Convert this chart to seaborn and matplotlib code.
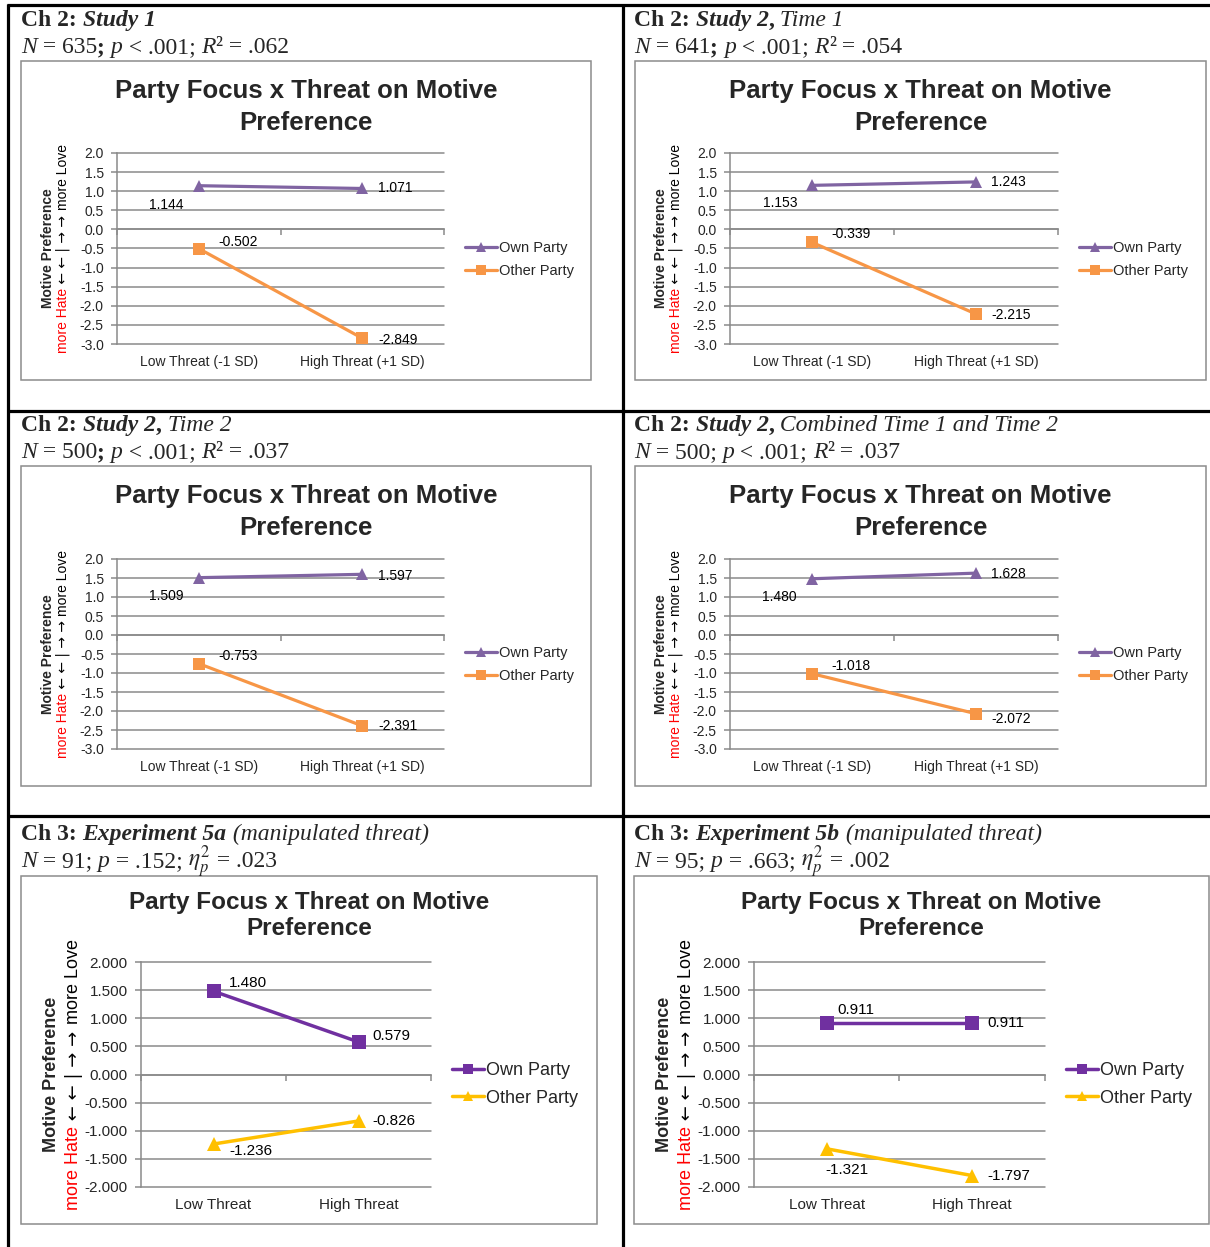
import matplotlib
matplotlib.use("Agg")
import matplotlib.pyplot as plt
import seaborn as sns
import pandas as pd
from matplotlib.lines import Line2D
from matplotlib.patches import Rectangle

sns.set_style("white")
plt.rcParams["font.family"] = ["Liberation Sans", "DejaVu Sans"]
plt.rcParams["mathtext.fontset"] = "stix"

W, H = 1210, 1247

# ---------------- data ----------------
parties = ["Own Party", "Other Party"]
threat_cont = ["Low Threat (-1 SD)", "High Threat (+1 SD)"]
threat_manip = ["Low Threat", "High Threat"]

study1_own = [1.144, 1.071]
study1_other = [-0.502, -2.849]
study2_t1_own = [1.153, 1.243]
study2_t1_other = [-0.339, -2.215]
study2_t2_own = [1.509, 1.597]
study2_t2_other = [-0.753, -2.391]
study2_comb_own = [1.480, 1.628]
study2_comb_other = [-1.018, -2.072]
exp5a_own = [1.480, 0.579]
exp5a_other = [-1.236, -0.826]
exp5b_own = [0.911, 0.911]
exp5b_other = [-1.321, -1.797]

yticks_cont = [2.0, 1.5, 1.0, 0.5, 0.0, -0.5, -1.0, -1.5, -2.0, -2.5, -3.0]
ylabels_cont = ["2.0", "1.5", "1.0", "0.5", "0.0", "-0.5", "-1.0", "-1.5", "-2.0", "-2.5", "-3.0"]
yticks_manip = [2.0, 1.5, 1.0, 0.5, 0.0, -0.5, -1.0, -1.5, -2.0]
ylabels_manip = ["2.000", "1.500", "1.000", "0.500", "0.000", "-0.500", "-1.000", "-1.500", "-2.000"]

chart_title = ["Party Focus x Threat on Motive", "Preference"]

hdr_study1 = [[("Ch 2: ", "b"), ("Study 1", "bi")],
              [("N", "i"), (" = 635", "r"), ("; ", "b"), ("p", "i"), (" < .001; ", "r"),
               ("R", "i"), ("²", "r"), (" = .062", "r")]]
hdr_study2_t1 = [[("Ch 2: ", "b"), ("Study 2", "bi"), (",", "b"), (" Time 1", "i")],
                 [("N", "i"), (" = 641", "r"), ("; ", "b"), ("p", "i"), (" < .001; ", "r"),
                  ("R", "i"), ("²", "r"), (" = .054", "r")]]
hdr_study2_t2 = [[("Ch 2: ", "b"), ("Study 2", "bi"), (",", "b"), (" Time 2", "i")],
                 [("N", "i"), (" = 500", "r"), ("; ", "b"), ("p", "i"), (" < .001; ", "r"),
                  ("R", "i"), ("²", "r"), (" = .037", "r")]]
hdr_study2_comb = [[("Ch 2: ", "b"), ("Study 2", "bi"), (",", "b"), (" Combined Time 1 and Time 2", "i")],
                   [("N", "i"), (" = 500; ", "r"), ("p", "i"), (" < .001; ", "r"),
                    ("R", "i"), ("²", "r"), (" = .037", "r")]]
hdr_exp5a = [[("Ch 3: ", "b"), ("Experiment 5a", "bi"), (" (manipulated threat)", "i")],
             [("N", "i"), (" = 91; ", "r"), ("p", "i"), (" = .152; ", "r"),
              (r"$\eta^2_p$", "r"), (" = .023", "r")]]
hdr_exp5b = [[("Ch 3: ", "b"), ("Experiment 5b", "bi"), (" (manipulated threat)", "i")],
             [("N", "i"), (" = 95; ", "r"), ("p", "i"), (" = .663; ", "r"),
              (r"$\eta^2_p$", "r"), (" = .002", "r")]]

ylab_line1 = "Motive Preference"
ylab_line2 = [("more Hate", "#FF0000", "sans"), (" ← ← | → → ", "black", "dejavu"),
              ("more Love", "black", "sans")]

# ---------------- layout / styles ----------------
TOP = dict(colors=("#8064A2", "#F79646"), markers=("^", "s"), ms=9, lw=2.3,
           tick_fs=10, cat_fs=10, lab_fs=10, leg_fs=10.5, ylab_fs=10, title_fs=18.5,
           title_gap=32, leg_hl=2.2, leg_ls=0.65, ypad=5.5, xpad=8,
           yl1=69, yl2=54, yticks=yticks_cont, ylabels=ylabels_cont, cats=threat_cont)
BOT = dict(colors=("#7030A0", "#FFC000"), markers=("s", "^"), ms=9.5, lw=2.5,
           tick_fs=11, cat_fs=11, lab_fs=11, leg_fs=13, ylab_fs=13, title_fs=17.5,
           title_gap=26, leg_hl=1.75, leg_ls=0.57, ypad=5.5, xpad=7.8,
           yl1=89, yl2=67, yticks=yticks_manip, ylabels=ylabels_manip, cats=threat_manip)

panels = [
    dict(style=TOP, own=study1_own, other=study1_other, hdr=hdr_study1, hx=21, hy=(26, 53),
         frame=(21, 591, 61, 380), ax=(117, 444, 153, 344), title_y=98, leg_y=259.5,
         lab_own=[(-15, -19, "right"), (16, 0, "left")], lab_other=[(20, 7, "left"), (16, -2, "left")]),
    dict(style=TOP, own=study2_t1_own, other=study2_t1_other, hdr=hdr_study2_t1, hx=634, hy=(26, 53),
         frame=(635, 1206, 61, 380), ax=(730, 1058, 153, 344), title_y=98, leg_y=259.5,
         lab_own=[(-15, -18, "right"), (15, 0, "left")], lab_other=[(19, 8, "left"), (15, -1, "left")]),
    dict(style=TOP, own=study2_t2_own, other=study2_t2_other, hdr=hdr_study2_t2, hx=21, hy=(431, 458),
         frame=(21, 591, 466, 786), ax=(117, 444, 559, 749), title_y=503, leg_y=664.5,
         lab_own=[(-15, -18, "right"), (16, -2, "left")], lab_other=[(20, 8, "left"), (16, 0, "left")]),
    dict(style=TOP, own=study2_comb_own, other=study2_comb_other, hdr=hdr_study2_comb, hx=634, hy=(431, 458),
         frame=(635, 1206, 466, 786), ax=(730, 1058, 559, 749), title_y=503, leg_y=664.5,
         lab_own=[(-15, -18, "right"), (15, -1, "left")], lab_other=[(19, 8, "left"), (15, -5, "left")]),
    dict(style=BOT, own=exp5a_own, other=exp5a_other, hdr=hdr_exp5a, hx=21, hy=(840, 867),
         frame=(21, 597, 876, 1224), ax=(141, 431, 962, 1187), title_y=909, leg_y=1084.5,
         lab_own=[(15, 8, "left"), (14, 6, "left")], lab_other=[(16, -7, "left"), (14, 0, "left")]),
    dict(style=BOT, own=exp5b_own, other=exp5b_other, hdr=hdr_exp5b, hx=634, hy=(840, 867),
         frame=(634, 1209, 876, 1224), ax=(754, 1045, 962, 1187), title_y=909, leg_y=1084.5,
         lab_own=[(11, 13, "left"), (15, 0, "left")], lab_other=[(-1, -21, "left"), (15, 0, "left")]),
]

GRID = "#8a8a8a"
SERIF = "Liberation Serif"
SANS = ["Liberation Sans", "DejaVu Sans"]
FAMS = {"sans": SANS, "dejavu": ["DejaVu Sans"]}
HDR_FS = 17
HSTY = {"b": dict(family=SERIF, weight="bold"),
        "bi": dict(family=SERIF, weight="bold", style="italic"),
        "i": dict(family=SERIF, style="italic"),
        "r": dict(family=SERIF)}

fig = plt.figure(figsize=(W / 100, H / 100), dpi=100)
renderer = fig.canvas.get_renderer()


def fx(x):
    return x / W


def fy(y):
    return 1 - y / H


def seg_w(s, kw):
    a = fig.text(0, 0, "|" + s + "|", **kw)
    b = fig.text(0, 0, "||", **kw)
    w = a.get_window_extent(renderer).width - b.get_window_extent(renderer).width
    a.remove()
    b.remove()
    return w


def rich_h(x, y, segs):
    for s, kw in segs:
        fig.text(fx(x), fy(y), s, ha="left", va="baseline", **kw)
        x += seg_w(s, kw)


def rich_v(xc, yc, segs):
    widths = [seg_w(s, kw) for s, kw in segs]
    y = yc + sum(widths) / 2
    for (s, kw), w in zip(segs, widths):
        fig.text(fx(xc), fy(y), s, rotation=90, rotation_mode="anchor",
                 ha="left", va="center", **kw)
        y -= w


# table rules
def hline(y, x0, x1):
    fig.add_artist(Line2D([fx(x0), fx(x1)], [fy(y), fy(y)], transform=fig.transFigure,
                          color="black", lw=2.3, solid_capstyle="butt"))


def vline(x, y0, y1):
    fig.add_artist(Line2D([fx(x), fx(x)], [fy(y0), fy(y1)], transform=fig.transFigure,
                          color="black", lw=2.3, solid_capstyle="butt"))


hline(5, 7, 1210)
hline(411, 7, 1210)
hline(816, 7, 1210)
vline(8, 4, 1247)
vline(623, 4, 1247)

for p in panels:
    st = p["style"]
    # header
    for line, yb in zip(p["hdr"], p["hy"]):
        rich_h(p["hx"], yb, [(s, dict(HSTY[k], size=HDR_FS)) for s, k in line])
    # chart frame
    l, r, t, b = p["frame"]
    fig.add_artist(Rectangle((fx(l), fy(b)), (r - l) / W, (b - t) / H, transform=fig.transFigure,
                             fill=False, edgecolor="#8c8c8c", lw=1.1))
    cx = (l + r) / 2
    fig.text(fx(cx), fy(p["title_y"]), chart_title[0], ha="center", va="baseline",
             fontsize=st["title_fs"], fontweight="bold", family=SANS)
    fig.text(fx(cx), fy(p["title_y"] + st["title_gap"]), chart_title[1], ha="center", va="baseline",
             fontsize=st["title_fs"], fontweight="bold", family=SANS)

    al, ar, at, ab = p["ax"]
    ax = fig.add_axes([fx(al), fy(ab), (ar - al) / W, (ab - at) / H])
    cats = st["cats"]
    df = pd.DataFrame({
        "Threat": cats + cats,
        "Motive": list(p["own"]) + list(p["other"]),
        "Party": [parties[0]] * 2 + [parties[1]] * 2,
    })
    sns.lineplot(data=df, x="Threat", y="Motive", hue="Party", style="Party",
                 hue_order=parties, style_order=parties,
                 palette=dict(zip(parties, st["colors"])),
                 markers=dict(zip(parties, st["markers"])), dashes=False,
                 markersize=st["ms"], markeredgewidth=0, linewidth=st["lw"],
                 sort=False, ax=ax)
    ymin, ymax = st["yticks"][-1], st["yticks"][0]
    ax.set_xlim(-0.5, 1.5)
    ax.set_ylim(ymin, ymax)
    ax.set_yticks(st["yticks"])
    ax.set_yticklabels(st["ylabels"])
    ax.set_xlabel("")
    ax.set_ylabel("")
    ax.set_facecolor("none")
    for sname in ["top", "right", "bottom"]:
        ax.spines[sname].set_visible(False)
    ax.spines["left"].set_color(GRID)
    ax.spines["left"].set_linewidth(1.1)
    ax.grid(axis="y", color=GRID, lw=1.1)
    ax.grid(axis="x", visible=False)
    ax.set_axisbelow(True)
    for gl in ax.get_ygridlines():
        gl.set_clip_on(False)
    ax.tick_params(axis="y", direction="out", length=4, width=1.1, color=GRID,
                   labelsize=st["tick_fs"], pad=st["ypad"], left=True)
    ax.tick_params(axis="x", length=0, labelsize=st["cat_fs"], pad=st["xpad"])
    for tl in ax.get_yticklabels() + ax.get_xticklabels():
        tl.set_family(SANS)

    # category axis crossing at zero
    sec = ax.secondary_xaxis((0 - ymin) / (ymax - ymin))
    sec.set_alignment("bottom")
    sec.set_xticks([-0.5, 0.5, 1.5])
    sec.set_xticklabels([])
    sec.spines["bottom"].set_color(GRID)
    sec.spines["bottom"].set_linewidth(1.1)
    sec.tick_params(axis="x", direction="out", length=4, width=1.1, color=GRID)

    # data labels
    for vals, offs in ((p["own"], p["lab_own"]), (p["other"], p["lab_other"])):
        for c, v, (dx, dy, ha) in zip(cats, vals, offs):
            ax.annotate(f"{v:.3f}", xy=(c, v), xytext=(dx * 0.72, dy * 0.72),
                        textcoords="offset points", ha=ha, va="center",
                        fontsize=st["lab_fs"], family=SANS, color="black")

    # legend
    leg = ax.get_legend()
    handles = list(leg.legend_handles)
    labels = [tx.get_text() for tx in leg.get_texts()]
    leg.remove()
    for h in handles:
        h.set_markersize(st["ms"] * 0.8)
        h.set_linewidth(st["lw"])
        h.set_markeredgewidth(0)
    ax.legend(handles, labels, loc="center left",
              bbox_to_anchor=(fx(ar + 21), fy(p["leg_y"])), bbox_transform=fig.transFigure,
              frameon=False, handlelength=st["leg_hl"],
              handletextpad=0.15, labelspacing=st["leg_ls"], borderpad=0, borderaxespad=0,
              prop=dict(family=SANS, size=st["leg_fs"]))

    # y-axis title (two rotated lines)
    ycen = (at + ab) / 2
    rich_v(al - st["yl1"], ycen, [(ylab_line1, dict(family=SANS, weight="bold", size=st["ylab_fs"]))])
    rich_v(al - st["yl2"], ycen, [(s, dict(family=FAMS[f], color=c, size=st["ylab_fs"]))
                                  for s, c, f in ylab_line2])

fig.savefig("out.png", dpi=100)
